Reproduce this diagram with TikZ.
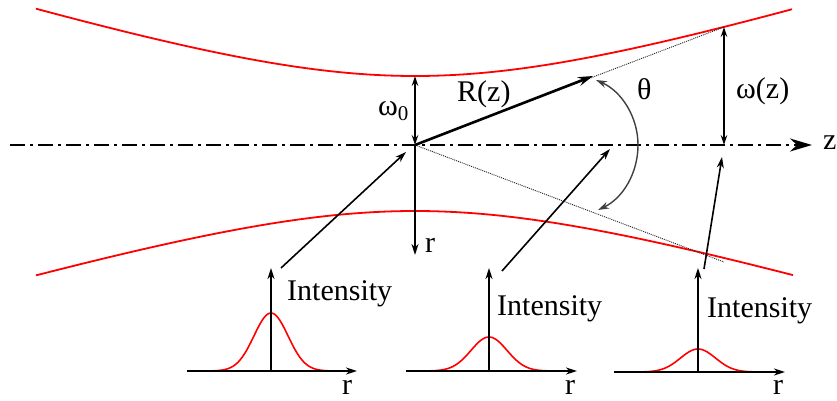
\documentclass[tikz,border=0pt]{standalone}
\usepackage{fontspec}
\setmainfont{Liberation Serif}
\usetikzlibrary{arrows.meta}
\begin{document}
\begin{tikzpicture}[x=1pt,y=-1pt,
  lbl/.style={inner sep=0pt, anchor=base west, font=\fontsize{30}{36}\selectfont},
  arr/.style={line width=1.6pt, -{Stealth[length=11pt,width=7pt,inset=3.5pt]}},
  dbl/.style={line width=1.4pt, {Stealth[length=10pt,width=6.5pt,inset=3.5pt]}-{Stealth[length=10pt,width=6.5pt,inset=3.5pt]}},
  beam/.style={red, line width=1.8pt},
  asym/.style={line width=0.9pt, black!85, dash pattern=on 1pt off 1pt},
  axisline/.style={line width=1.6pt, -{Stealth[length=11pt,width=7pt,inset=3.5pt]}},
  gauss/.style={red, line width=1.6pt}
]
\useasboundingbox (0,0) rectangle (837,401);

% optical axis
\coordinate (zs) at (10,145);
\coordinate (ze) at (812,145);
\draw[line width=2pt, dash pattern=on 15pt off 5pt on 3pt off 5pt,
      -{Stealth[length=22pt,width=13pt,inset=7pt]}] (zs) -- (ze);
\node[lbl] (zl) at (823,149) {z};

% beam envelope
\draw[beam] plot[domain=36:792, samples=120] (\x,{145-69*sqrt(1+((\x-415)/222.5)^2)});
\draw[beam] plot[domain=36:793, samples=120] (\x,{145+66*sqrt(1+((\x-415)/222.5)^2)});

% waist
\coordinate (O) at (415,145);
\coordinate (W0) at (415,76);
\draw[dbl] (O) -- (W0);
\node[lbl] (w0) at (378,115) {ω\textsubscript{0}};
\coordinate (Rb) at (415,255);
\draw[arr] (O) -- (Rb);
\node[lbl] (rl) at (425,252) {r};

% asymptotes and radius
\coordinate (Up) at (724,27);
\coordinate (Lo) at (724,262);
\draw[asym] (O) -- (Up);
\draw[asym] (O) -- (Lo);
\coordinate (Rt) at (593,76);
\draw[line width=2.6pt, -{Stealth[length=15pt,width=9pt,inset=5pt]}] (O) -- (Rt);
\node[lbl] (Rl) at (457,102) {R(z)};

% w(z)
\coordinate (Wz) at (724,145);
\draw[dbl] (Wz) -- (Up);
\node[lbl] (wzl) at (736,99) {ω(z)};

% theta arc
\coordinate (A1) at (596,80);
\coordinate (Am) at (638,145);
\coordinate (A2) at (598,210);
\draw[black!75, line width=1.4pt, {Stealth[length=11pt,width=7pt,inset=3.5pt]}-{Stealth[length=11pt,width=7pt,inset=3.5pt]}]
  (A1) .. controls (621.6,91.4) and (638,117) .. (Am) .. controls (638,173) and (623,198) .. (A2);
\node[lbl] (th) at (637,100) {θ};

% intensity plot 1
\coordinate (a1l) at (187,371);
\coordinate (a1r) at (357,371);
\coordinate (a1b) at (271,371);
\coordinate (a1t) at (271,268);
\draw[gauss] plot[domain=-62:62, samples=80] ({271+\x},{371-58*exp(-(\x/17)^2/2)});
\draw[axisline] (a1l) -- (a1r);
\draw[axisline] (a1b) -- (a1t);
\node[lbl] (i1) at (287,300) {Intensity};
\node[lbl] (r1) at (342,394) {r};
\coordinate (p1s) at (281,268);
\coordinate (p1e) at (406,152);
\draw[arr] (p1s) -- (p1e);

% intensity plot 2
\coordinate (a2l) at (406,371);
\coordinate (a2r) at (577,371);
\coordinate (a2b) at (489,371);
\coordinate (a2t) at (489,268);
\draw[gauss] plot[domain=-72:64, samples=80] ({489+\x},{371-34*exp(-(\x/18)^2/2)});
\draw[axisline] (a2l) -- (a2r);
\draw[axisline] (a2b) -- (a2t);
\node[lbl] (i2) at (497,315) {Intensity};
\node[lbl] (r2) at (565,394) {r};
\coordinate (p2s) at (502,271);
\coordinate (p2e) at (610,149);
\draw[arr] (p2s) -- (p2e);

% intensity plot 3
\coordinate (a3l) at (614,372);
\coordinate (a3r) at (785,372);
\coordinate (a3b) at (698,372);
\coordinate (a3t) at (698,268);
\draw[gauss] plot[domain=-78:67, samples=80] ({698+\x},{372-23*exp(-(\x/17.5)^2/2)});
\draw[axisline] (a3l) -- (a3r);
\draw[axisline] (a3b) -- (a3t);
\node[lbl] (i3) at (707,317) {Intensity};
\node[lbl] (r3) at (773,394) {r};
\coordinate (p3s) at (704,269);
\coordinate (p3e) at (722,157);
\draw[arr] (p3s) -- (p3e);
\end{tikzpicture}
\end{document}
